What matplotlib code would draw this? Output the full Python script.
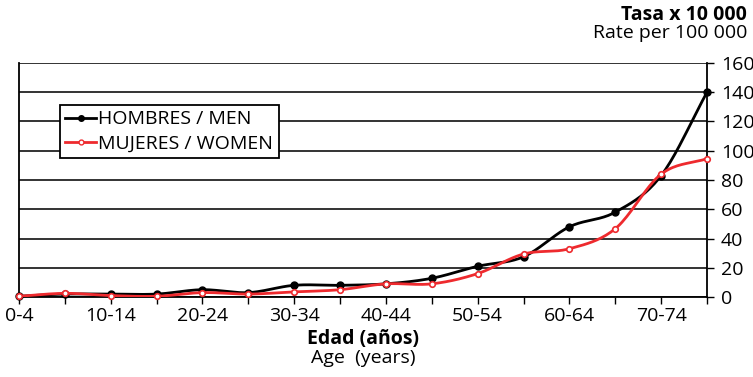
import numpy as np
import matplotlib.pyplot as plt

plt.rcParams['font.family'] = ['Open Sans', 'DejaVu Sans']

age_groups = ['0-4', '5-9', '10-14', '15-19', '20-24', '25-29', '30-34', '35-39',
              '40-44', '45-49', '50-54', '55-59', '60-64', '65-69', '70-74', '75-79']
men = [0.5, 2, 2, 2, 5, 3, 8, 8, 9, 12.8, 21, 27.5, 48, 58, 83, 140]
women = [0.5, 2.5, 1, 0.5, 3, 2, 3.5, 5, 9, 9, 16, 29.4, 33, 46.7, 84, 94.6]


def smooth(y, n=20):
    # Catmull-Rom curve through the points (like a spreadsheet "smoothed line")
    y = np.asarray(y, dtype=float)
    x = np.arange(len(y), dtype=float)
    px = np.concatenate([[2 * x[0] - x[1]], x, [2 * x[-1] - x[-2]]])
    py = np.concatenate([[2 * y[0] - y[1]], y, [2 * y[-1] - y[-2]]])
    xs, ys = [], []
    t = np.linspace(0, 1, n, endpoint=False)
    for i in range(1, len(px) - 2):
        for p, out in ((px, xs), (py, ys)):
            p0, p1, p2, p3 = p[i - 1], p[i], p[i + 1], p[i + 2]
            out.extend(0.5 * (2 * p1 + (-p0 + p2) * t + (2 * p0 - 5 * p1 + 4 * p2 - p3) * t ** 2
                              + (-p0 + 3 * p1 - 3 * p2 + p3) * t ** 3))
    xs.append(x[-1])
    ys.append(y[-1])
    return np.array(xs), np.array(ys)


fig = plt.figure(figsize=(7.53, 3.77), dpi=100)
ax = fig.add_axes([19 / 753, 1 - 297 / 377, (707 - 19) / 753, (297 - 63) / 377])

x = np.arange(len(age_groups))
red = '#ee2a2e'
fs = 14

sx, sy = smooth(men)
ax.plot(sx, sy, color='black', lw=2, zorder=3)
ax.plot(x, men, 'o', color='black', ms=5, zorder=4, clip_on=False)

sx, sy = smooth(women)
ax.plot(sx, sy, color=red, lw=2, zorder=5)
ax.plot(x, women, 'o', color=red, mfc='white', mew=1.2, ms=4, zorder=6, clip_on=False)

# legend handles
ax.plot([], [], '-o', color='black', lw=2, ms=4, label='HOMBRES / MEN')
ax.plot([], [], '-o', color=red, mfc='white', lw=2, ms=3.5, mew=1, label='MUJERES / WOMEN')

ax.set_xlim(0, len(age_groups) - 1)
ax.set_ylim(0, 160)
ax.set_yticks(range(0, 161, 20))
ax.yaxis.tick_right()
ax.grid(axis='y', color='#111111', lw=1.2)
ax.set_axisbelow(True)
ax.set_xticks(x)
ax.set_xticklabels([g if i % 2 == 0 else '' for i, g in enumerate(age_groups)])
ax.tick_params(axis='both', direction='out', length=5, width=1, labelsize=fs, colors='black')
ax.tick_params(axis='y', pad=5)
ax.tick_params(axis='x', pad=2)
for s in ax.spines.values():
    s.set_color('black')
    s.set_linewidth(1.3)
ax.spines['top'].set_visible(False)

leg = ax.legend(handles=ax.lines[-2:], loc='upper left', bbox_to_anchor=(41 / 688, 1 - 42 / 234),
                fontsize=fs, frameon=True, fancybox=False, edgecolor='black', framealpha=1,
                handlelength=1.55, handletextpad=0.15, borderpad=0.28, labelspacing=0.32,
                borderaxespad=0)
leg.get_frame().set_linewidth(1.3)

fig.text(747 / 753, 1 - 15 / 377, 'Tasa x 10 000', ha='right', va='center', fontsize=fs, fontweight='bold')
fig.text(747 / 753, 1 - 33 / 377, 'Rate per 100 000', ha='right', va='center', fontsize=fs)
fig.text(363 / 753, 1 - 339 / 377, 'Edad (años)', ha='center', va='center', fontsize=fs, fontweight='bold')
fig.text(363 / 753, 1 - 358 / 377, 'Age  (years)', ha='center', va='center', fontsize=fs)

fig.savefig('out.png', dpi=100)
